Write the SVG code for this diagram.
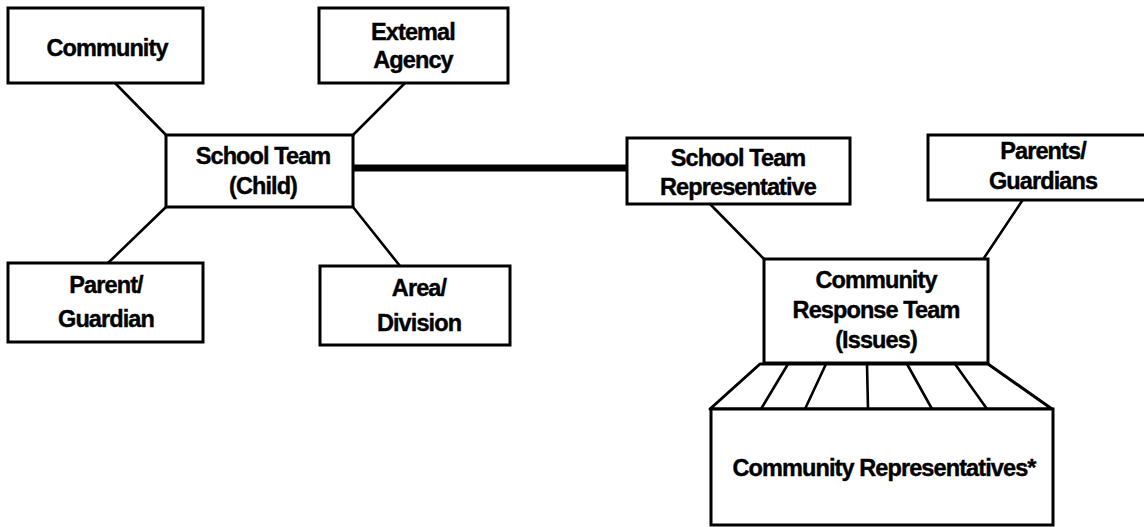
<svg xmlns="http://www.w3.org/2000/svg" width="1144" height="527" viewBox="0 0 1144 527">
  <style>
    .box { fill: #fff; stroke: #000; stroke-width: 3; }
    .link { stroke: #000; stroke-width: 2.6; fill: none; stroke-linecap: round; }
    .bar { stroke: #000; stroke-width: 7; fill: none; }
    .lbl { font-family: "Liberation Sans", Arial, sans-serif; font-weight: bold; font-size: 23.5px; letter-spacing: -0.9px; fill: #000; stroke: #000; stroke-width: 0.4; text-anchor: middle; }
  </style>
  <rect width="1144" height="527" fill="#fff"/>

  <!-- connectors -->
  <g id="connectors">
    <line class="link" x1="115" y1="83" x2="166" y2="135"/>
    <line class="link" x1="405" y1="83" x2="353" y2="135"/>
    <line class="link" x1="166" y1="207" x2="108" y2="263"/>
    <line class="link" x1="353" y1="207" x2="400" y2="266"/>
    <line class="bar" x1="353" y1="168" x2="628" y2="168"/>
    <line class="link" x1="710" y1="204" x2="764" y2="259"/>
    <line class="link" x1="1022" y1="201" x2="984" y2="258"/>
  </g>

  <!-- school team cluster -->
  <g id="community">
    <rect class="box" x="8" y="8" width="195" height="75"/>
    <text class="lbl" x="107" y="56">Community</text>
  </g>
  <g id="external-agency">
    <rect class="box" x="319" y="8" width="189" height="75"/>
    <text class="lbl" x="413" y="40">Extemal</text>
    <text class="lbl" x="413" y="68">Agency</text>
  </g>
  <g id="school-team">
    <rect class="box" x="166" y="135" width="187" height="72"/>
    <text class="lbl" x="263" y="164">School Team</text>
    <text class="lbl" x="263" y="194">(Child)</text>
  </g>
  <g id="parent-guardian">
    <rect class="box" x="8" y="263" width="195" height="79"/>
    <text class="lbl" x="106" y="293">Parent/</text>
    <text class="lbl" x="106" y="327">Guardian</text>
  </g>
  <g id="area-division">
    <rect class="box" x="320" y="266" width="190" height="79"/>
    <text class="lbl" x="419" y="296">Area/</text>
    <text class="lbl" x="419" y="331">Division</text>
  </g>

  <!-- community response cluster -->
  <g id="school-team-rep">
    <rect class="box" x="627" y="138" width="223" height="66"/>
    <text class="lbl" x="738" y="166">School Team</text>
    <text class="lbl" x="738" y="195">Representative</text>
  </g>
  <g id="parents-guardians">
    <rect class="box" x="928" y="135" width="230" height="65"/>
    <text class="lbl" x="1043" y="159">Parents/</text>
    <text class="lbl" x="1043" y="189">Guardians</text>
  </g>
  <g id="community-response-team">
    <rect class="box" x="764" y="259" width="224" height="104"/>
    <text class="lbl" x="876" y="288">Community</text>
    <text class="lbl" x="876" y="318">Response Team</text>
    <text class="lbl" x="876" y="348">(Issues)</text>
  </g>
  <g id="community-representatives">
    <polygon class="box" points="760,364 988,364 1052,409 710,409" stroke-linejoin="round"/>
    <g class="link">
      <line x1="788" y1="364" x2="761" y2="409"/>
      <line x1="826" y1="364" x2="805" y2="409"/>
      <line x1="867" y1="364" x2="868" y2="409"/>
      <line x1="907" y1="364" x2="932" y2="409"/>
      <line x1="955" y1="364" x2="987" y2="409"/>
    </g>
    <rect class="box" x="711" y="409" width="342" height="116"/>
    <text class="lbl" x="884" y="476">Community Representatives*</text>
  </g>
</svg>
